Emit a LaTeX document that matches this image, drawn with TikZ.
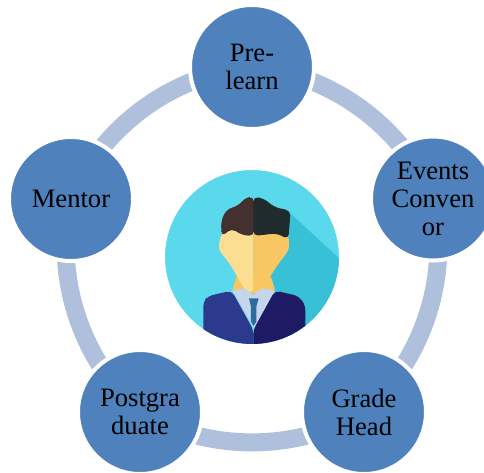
\documentclass[tikz,border=0pt]{standalone}
\usepackage{fontspec}
\setmainfont{Liberation Serif}
\usetikzlibrary{backgrounds}
\definecolor{nodeblue}{HTML}{4F81BD}
\definecolor{ringblue}{HTML}{AFC0DC}
\definecolor{skyA}{HTML}{5AD8EC}
\definecolor{skyB}{HTML}{38C0D6}
\definecolor{hairL}{HTML}{43302F}
\definecolor{hairR}{HTML}{1F2B2C}
\definecolor{faceL}{HTML}{FBDE92}
\definecolor{faceR}{HTML}{F8C663}
\definecolor{shirtc}{HTML}{C6D6EA}
\definecolor{tiec}{HTML}{2A6CA0}
\definecolor{jackL}{HTML}{2B3A8C}
\definecolor{jackR}{HTML}{1E1A63}
\tikzset{
  rolenode/.style={circle,fill=nodeblue,draw=white,line width=4pt,minimum size=124pt,inner sep=0pt,outer sep=0pt,
    text=black,align=center,font=\fontsize{26.6}{28}\selectfont},
  ringarc/.style={draw=ringblue,line width=18pt,line cap=butt,bend left=31,looseness=0.9},
  flat/.style={rounded corners=5pt}
}
\begin{document}
\begin{tikzpicture}[x=1pt,y=-1pt]
\useasboundingbox (0,0) rectangle (484,472);
\node[rolenode] (pre) at (252,67) {Pre-\\learn};
\node[rolenode] (events) at (433,198.5) {Events\\Conven\\or};
\node[rolenode] (grade) at (364,412) {Grade\\Head};
\node[rolenode] (post) at (140,412) {Postgra\\duate};
\node[rolenode] (mentor) at (71,199) {Mentor};
\begin{pgfonlayer}{background}
  \draw[ringarc] (pre.center) to (events.center);
  \draw[ringarc] (events.center) to (grade.center);
  \draw[ringarc] (grade.center) to (post.center);
  \draw[ringarc] (post.center) to (mentor.center);
  \draw[ringarc] (mentor.center) to (pre.center);
\end{pgfonlayer}
% centre portrait
\node[circle,draw=white,line width=5pt,fill=skyA,minimum size=179pt,inner sep=0pt,outer sep=0pt] (avatar) at (252,257) {};
\begin{scope}
  \clip (avatar.center) circle (87pt);
  \begin{scope}[x=0.3333pt,y=-0.3333pt,shift={(150pt,-160pt)}]
    \fill[skyB] (410,150) -- (600,325) -- (600,600) -- (320,600) -- (320,300) -- cycle;
    \fill[faceR,flat] (262,340) -- (360,340) -- (378,400) -- (245,400) -- cycle;
    \fill[faceL,flat] (310,195) -- (240,200) -- (212,225) -- (205,268) -- (240,312) -- (262,350) -- (285,390) -- (310,400) -- cycle;
    \fill[faceR,flat] (310,195) -- (385,200) -- (416,225) -- (418,268) -- (385,312) -- (360,350) -- (335,390) -- (310,400) -- cycle;
    \fill[shirtc] (247,392) -- (285,385) -- (310,405) -- (335,385) -- (375,392) -- (312,505) -- cycle;
    \fill[jackL,flat] (160,600) -- (160,425) -- (175,408) -- (245,392) -- (310,510) -- (310,600) -- cycle;
    \fill[jackR,flat] (310,600) -- (310,510) -- (375,392) -- (445,408) -- (466,435) -- (466,600) -- cycle;
    \fill[tiec] (297,415) -- (326,415) -- (319,440) -- (319,485) -- (311,498) -- (303,485) -- (303,440) -- cycle;
    \fill[hairL,flat] (312,110) -- (285,113) -- (268,135) -- (228,150) -- (213,185) -- (215,230) -- (245,205) -- (275,225) -- (312,228) -- cycle;
    \fill[hairR,flat] (310,110) -- (340,115) -- (375,142) -- (422,152) -- (415,238) -- (380,220) -- (310,228) -- cycle;
  \end{scope}
\end{scope}
\end{tikzpicture}
\end{document}
